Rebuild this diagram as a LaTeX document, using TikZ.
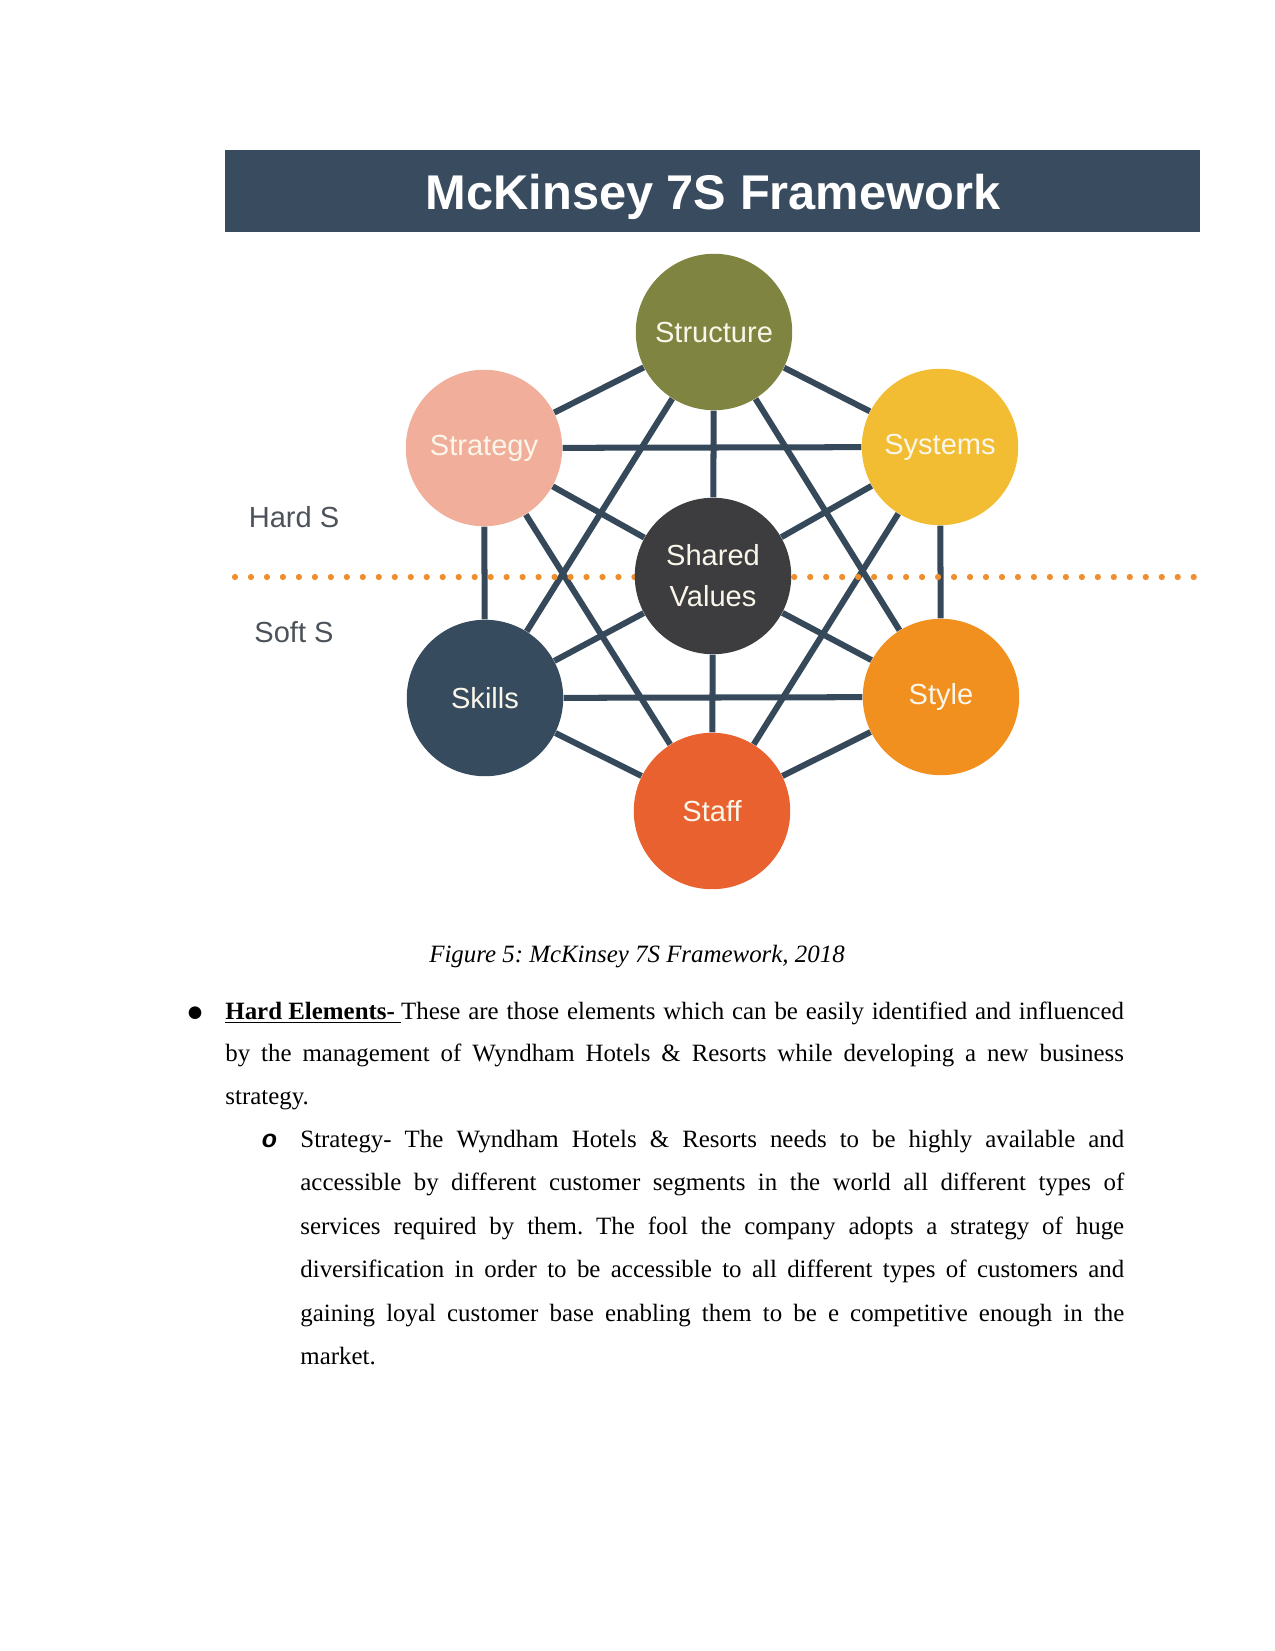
\documentclass[tikz,border=0pt]{standalone}
\usepackage{fontspec}
\setmainfont{Liberation Serif}
\setsansfont{Liberation Sans}
\newfontfamily\symfont{DejaVu Sans}
\usetikzlibrary{backgrounds}
\frenchspacing

\definecolor{bannerblue}{HTML}{394B5E}
\definecolor{edgeblue}{HTML}{36495B}
\definecolor{cstructure}{HTML}{7F8540}
\definecolor{cstrategy}{HTML}{F0AE9B}
\definecolor{csystems}{HTML}{F2BD33}
\definecolor{cshared}{HTML}{3D3D3F}
\definecolor{cskills}{HTML}{374B5E}
\definecolor{cstyle}{HTML}{F1901F}
\definecolor{cstaff}{HTML}{E8612F}
\definecolor{dotorange}{HTML}{EE8F2C}
\definecolor{labelgrey}{HTML}{4B5259}
\definecolor{cream}{HTML}{FBF6EA}

\begin{document}
\begin{tikzpicture}[
        x=0.0169333cm, y=-0.0169333cm,
        every node/.style={inner sep=0pt},
        sbox/.style={circle, minimum size=2.65cm, text=cream, align=center,
                     font=\sffamily\fontsize{14}{19.7}\selectfont},
        link/.style={edgeblue, line width=2.9pt},
        side/.style={text=labelgrey, font=\sffamily\fontsize{14}{17}\selectfont},
        body/.style={anchor=base west, align=justify, font=\frenchspacing\fontsize{12}{20.7}\selectfont},
    ]
    \useasboundingbox (0,0) rectangle (1275,1651);

    %% Banner
    \node[fill=bannerblue, minimum width=16.51cm, minimum height=1.374cm] (banner) at (712.5,191) {};
    \node[anchor=base, text=white, font=\sffamily\bfseries\fontsize{23.5}{28}\selectfont] (title) at (713,209) {McKinsey 7S Framework};

    %% The seven S
    \node[sbox, fill=cstructure] (structure) at (714,332) {Structure};
    \node[sbox, fill=cstrategy] (strategy) at (484,448) {Strategy};
    \node[sbox, fill=csystems] (systems) at (940,447) {Systems};
    \node[sbox, fill=cshared] (shared) at (713,576) {Shared\\Values};
    \node[sbox, fill=cskills] (skills) at (485,698) {Skills};
    \node[sbox, fill=cstyle] (style) at (941,697) {Style};
    \node[sbox, fill=cstaff] (staff) at (712,811) {Staff};

    %% Links between them
    \begin{scope}[on background layer]
        \foreach \a/\b in {structure/strategy, structure/systems, structure/shared, structure/skills, structure/style,
                           strategy/systems, strategy/shared, strategy/skills, strategy/staff,
                           systems/shared, systems/style, systems/staff,
                           shared/skills, shared/style, shared/staff,
                           skills/style, skills/staff, style/staff} {
            \draw[link] (\a) -- (\b);
        }
        %% Hard / soft divide
        \coordinate (divl) at (235,577);
        \coordinate (divr) at (1200,577);
        \draw[dotorange, line width=3pt, line cap=round, dash pattern=on 0pt off 7.7pt] (divl) -- (divr);
    \end{scope}

    \node[side] (hard) at (294,517) {Hard S};
    \node[side] (soft) at (294,632) {Soft S};

    %% Caption and text
    \node[anchor=base, font=\frenchspacing\fontsize{12}{14}\selectfont\itshape] (caption) at (637,962) {Figure 5: McKinsey 7S Framework, 2018};

    \node[font=\symfont\fontsize{8}{10}\selectfont] (dot1) at (195,1013) {●};
    \node[body, text width=433pt] (hardtxt) at (225,1019) {\underline{\textbf{Hard Elements-}\ }These are those elements which can be easily identified and influenced\linebreak by the management of Wyndham Hotels \& Resorts while developing a new business\linebreak strategy.};

    \node[anchor=base, font=\sffamily\bfseries\itshape\fontsize{12}{14}\selectfont] (dot2) at (269.5,1147) {o};
    \node[body, text width=397pt, font=\frenchspacing\fontsize{12}{21}\selectfont] (strattxt) at (300,1147) {Strategy- The Wyndham Hotels \& Resorts needs to be highly available and\linebreak accessible by different customer segments in the world all different types of\linebreak services required by them. The fool the company adopts a strategy of huge\linebreak diversification in order to be accessible to all different types of customers and\linebreak gaining loyal customer base enabling them to be e competitive enough in the\linebreak market.};

\end{tikzpicture}
\end{document}
